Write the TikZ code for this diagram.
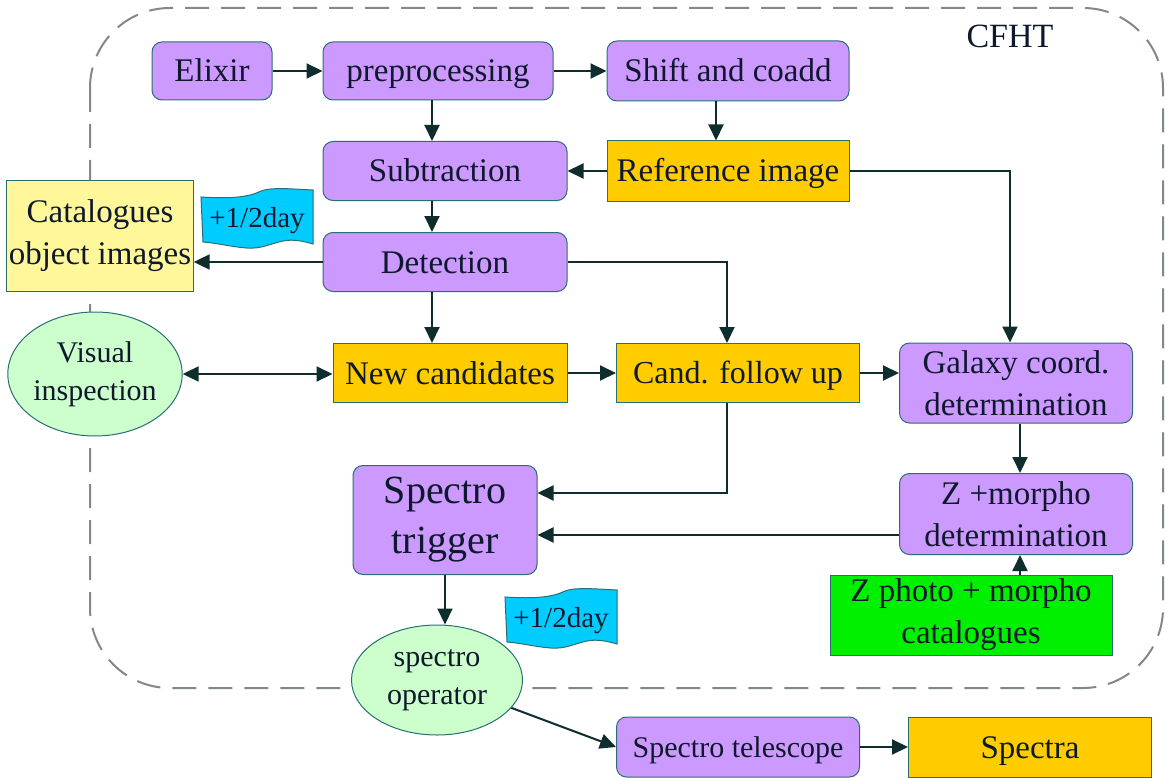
\documentclass[tikz,border=0pt]{standalone}
\usepackage{fontspec}
\setmainfont{Liberation Serif}
\usetikzlibrary{arrows.meta,shapes.geometric}
\definecolor{pur}{RGB}{204,153,255}
\definecolor{org}{RGB}{255,204,0}
\definecolor{yel}{RGB}{255,247,153}
\definecolor{lgr}{RGB}{204,255,204}
\definecolor{grn}{RGB}{0,240,0}
\definecolor{cya}{RGB}{0,204,255}
\definecolor{bord}{RGB}{40,110,115}
\definecolor{txt}{RGB}{15,25,45}
\definecolor{arrc}{RGB}{15,45,45}
\definecolor{dashc}{RGB}{130,135,135}
\tikzset{
  box/.style={draw=bord, line width=1pt, inner sep=2pt, align=center, text=txt,
    font=\fontsize{33}{42}\selectfont},
  one/.style={text height=22pt, text depth=0pt},
  rbox/.style={box, rounded corners=10pt, fill=pur},
  obox/.style={box, fill=org},
  ell/.style={box, ellipse, fill=lgr, inner sep=0pt, font=\fontsize{30}{38}\selectfont},
  arr/.style={-{Triangle[length=16pt,width=15pt]}, line width=2pt, draw=arrc},
  darr/.style={{Triangle[length=16pt,width=15pt]}-{Triangle[length=16pt,width=15pt]}, line width=2pt, draw=arrc},
  flagtxt/.style={text=txt, font=\fontsize{29}{34}\selectfont, text height=19pt, text depth=0pt},
}
\newcommand{\flagshape}[2]{%
  \filldraw[fill=cya, draw=bord, line width=1pt, shift={(#1,#2)}]
    (-56,-21) .. controls (-25,-19) and (-8,-21) .. (4,-27)
    .. controls (15,-31) and (35,-29) .. (56,-28)
    -- (56,26) .. controls (46,23) and (36,21) .. (26,23)
    .. controls (12,26) and (5,31) .. (-10,30)
    .. controls (-25,29) and (-40,25) .. (-54,24) -- cycle;}
\begin{document}
\begin{tikzpicture}[x=1pt,y=-1pt]
\useasboundingbox (0,0) rectangle (1169,778);
% CFHT dashed region
\draw[dashc, line width=2pt, dash pattern=on 24pt off 12pt, rounded corners=80pt]
  (90,8) rectangle (1163,688);
\node[text=txt, font=\fontsize{34}{40}\selectfont] (cfht) at (1010,36) {CFHT};

% nodes
\node[rbox, one, minimum width=120, minimum height=58] (elixir) at (212,71) {Elixir};
\node[rbox, one, minimum width=230, minimum height=58] (prep) at (438,71) {preprocessing};
\node[rbox, one, minimum width=242, minimum height=60] (shift) at (728,71) {Shift and coadd};
\node[rbox, one, minimum width=244, minimum height=59] (sub) at (445,171) {Subtraction};
\node[obox, one, minimum width=242, minimum height=60] (ref) at (728,171) {Reference image};
\node[box, fill=yel, minimum width=180, minimum height=110] (cat) at (100,236) {Catalogues\\object images};
\node[rbox, one, minimum width=244, minimum height=59] (det) at (445,262) {Detection};
\node[ell, minimum width=170, minimum height=124] (vis) at (95,374) {Visual\\inspection};
\node[obox, one, minimum width=234, minimum height=59] (new) at (450,373) {New candidates};
\node[obox, minimum width=243, minimum height=59, font=\fontsize{32}{40}\selectfont, text height=21pt, text depth=0pt] (cfu) at (738,373) {Cand. follow up};
\node[rbox, minimum width=233, minimum height=80] (gal) at (1016,383) {Galaxy coord.\\determination};
\node[rbox, minimum width=184, minimum height=109, font=\fontsize{40}{50}\selectfont] (trig) at (445,520) {\raisebox{-6pt}{Spectro}\\\raisebox{-6pt}{trigger}};
\node[rbox, minimum width=233, minimum height=81] (zm) at (1016,514) {Z +morpho\\determination};
\node[box, fill=grn, minimum width=282, minimum height=80] (zp) at (971,615) {Z photo + morpho\\catalogues};
\node[ell, minimum width=171, minimum height=110] (op) at (437,680) {spectro\\operator};
\node[rbox, minimum width=243, minimum height=60, font=\fontsize{30}{38}\selectfont, text height=20pt, text depth=0pt] (tel) at (738,747) {Spectro telescope};
\node[obox, one, minimum width=243, minimum height=60] (spec) at (1030,747) {Spectra};

% flags
\flagshape{257}{218}
\node[flagtxt] (flag1) at (257,218) {+1/2day};
\flagshape{561}{618}
\node[flagtxt] (flag2) at (561,618) {+1/2day};

% helper x positions
\coordinate (xa) at (432,0);
\coordinate (xb) at (716,0);
\coordinate (xc) at (1010,0);
\coordinate (xd) at (727,0);
\coordinate (xe) at (1020,0);

% connectors
\draw[arr] (elixir) -- (prep);
\draw[arr] (prep) -- (shift);
\draw[arr] (prep.south -| xa) -- (sub.north -| xa);
\draw[arr] (shift.south -| xb) -- (ref.north -| xb);
\draw[arr] (ref.west) -- (sub.east);
\draw[arr] (ref.east) -| (gal.north -| xc);
\draw[arr] (sub.south -| xa) -- (det.north -| xa);
\draw[arr] (det.west) -- (det.west -| cat.east);
\draw[arr] (det.east) -| (cfu.north -| xd);
\draw[arr] (det.south -| xa) -- (new.north -| xa);
\draw[darr] (vis.east) -- (vis.east -| new.west);
\draw[arr] (new) -- (cfu);
\draw[arr] (cfu.east) -- (cfu.east -| gal.west);
\draw[arr] (cfu.south -| xd) |- ([yshift=27pt]trig.east);
\draw[arr] (gal.south -| xe) -- (zm.north -| xe);
\draw[arr] ([yshift=-21pt]zm.west) -- ([yshift=-21pt]zm.west -| trig.east);
\draw[arr] (zp.north -| xe) -- (zm.south -| xe);
\draw[arr] (trig.south) -- (trig.south |- op.north);
\draw[arr] (op) -- (tel.west);
\draw[arr] (tel) -- (spec);
\end{tikzpicture}
\end{document}
